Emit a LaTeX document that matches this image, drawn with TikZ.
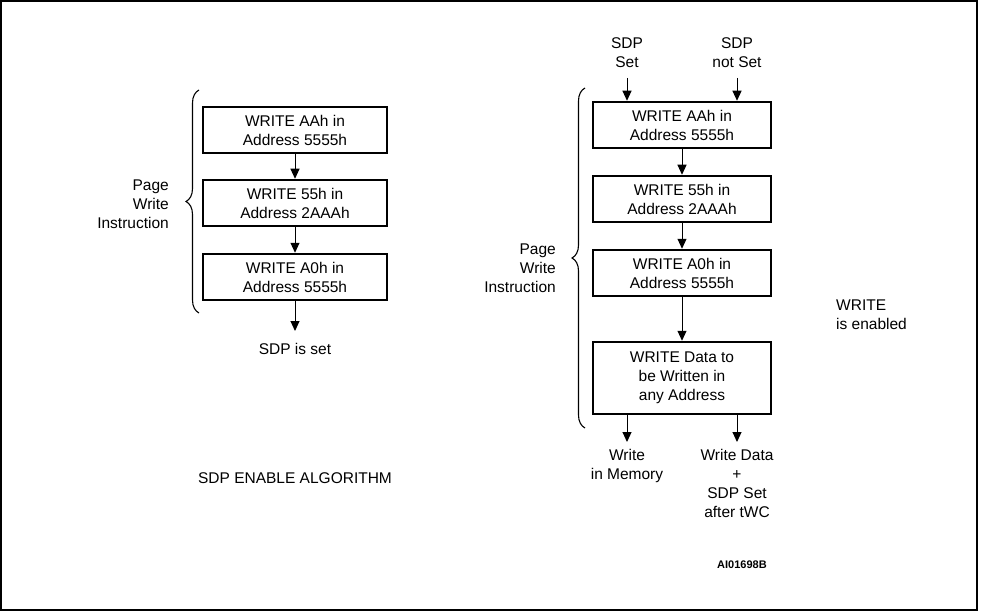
\documentclass[tikz,border=0pt]{standalone}
\usepackage{fontspec}
\setmainfont{Liberation Sans}
\usetikzlibrary{arrows.meta,decorations.pathreplacing}
\begin{document}
\begin{tikzpicture}[x=1pt,y=-1pt,
  box/.style={draw,line width=2.5pt,minimum height=46pt,inner sep=0pt,align=center,font=\fontsize{15.5}{19}\selectfont},
  lbl/.style={align=center,font=\fontsize{15.5}{19}\selectfont,inner sep=0pt},
  arr/.style={-{Triangle[length=10pt,width=9pt]},line width=1pt},
  brc/.style={decorate,decoration={brace,amplitude=13pt},line width=1.1pt}]
\useasboundingbox (0,0) rectangle (981,612);
\draw[line width=2pt] (1,1) rectangle (977,610);
% left
\node[box,minimum width=184pt] (l1) at (295,130) {WRITE AAh in\\Address 5555h};
\node[box,minimum width=184pt] (l2) at (295,203) {WRITE 55h in\\Address 2AAAh};
\node[box,minimum width=184pt] (l3) at (295,277) {WRITE A0h in\\Address 5555h};
\coordinate (l4) at (295,331);
\node[lbl] (lset) at (295,349) {SDP is set};
\draw[arr] (l1) -- (l2);
\draw[arr] (l2) -- (l3);
\draw[arr] (l3) -- (l4);
\coordinate (lb1) at (199,313);
\coordinate (lb2) at (199,90);
\draw[brc] (lb1) -- (lb2);
\node[lbl,align=right,anchor=east] (lpw) at (169,204) {Page\\Write\\Instruction};
% right
\node[box,minimum width=178pt] (r1) at (682,125) {WRITE AAh in\\Address 5555h};
\node[box,minimum width=178pt] (r2) at (682,199) {WRITE 55h in\\Address 2AAAh};
\node[box,minimum width=178pt] (r3) at (682,273) {WRITE A0h in\\Address 5555h};
\node[box,minimum width=178pt,minimum height=72pt] (r4) at (682,378) {WRITE Data to\\be Written in\\any Address};
\draw[arr] (r1) -- (r2);
\draw[arr] (r2) -- (r3);
\draw[arr] (r3) -- (r4);
\node[lbl] (sset) at (627,53) {SDP\\Set};
\node[lbl] (snset) at (737,53) {SDP\\not Set};
\coordinate (sa) at (627,78);
\coordinate (sb) at (737,78);
\draw[arr] (sa) -- (sa |- r1.north);
\draw[arr] (sb) -- (sb |- r1.north);
\coordinate (ba) at (627,442);
\coordinate (bb) at (737,442);
\draw[arr] (ba |- r4.south) -- (ba);
\draw[arr] (bb |- r4.south) -- (bb);
\node[lbl,anchor=north] (wm) at (627,449) {Write\\in Memory};
\node[lbl,anchor=north] (wd) at (737,449) {Write Data\\+\\SDP Set\\after tWC};
\coordinate (rb1) at (585,428);
\coordinate (rb2) at (585,88);
\draw[brc] (rb1) -- (rb2);
\node[lbl,align=right,anchor=east] (rpw) at (556,268) {Page\\Write\\Instruction};
\node[lbl,align=left,anchor=west] (we) at (836,315) {WRITE\\is enabled};
\node[lbl] (alg) at (295,478) {SDP ENABLE ALGORITHM};
\node[lbl,font=\bfseries\fontsize{11}{13}\selectfont] (code) at (742,565) {AI01698B};
\end{tikzpicture}
\end{document}
